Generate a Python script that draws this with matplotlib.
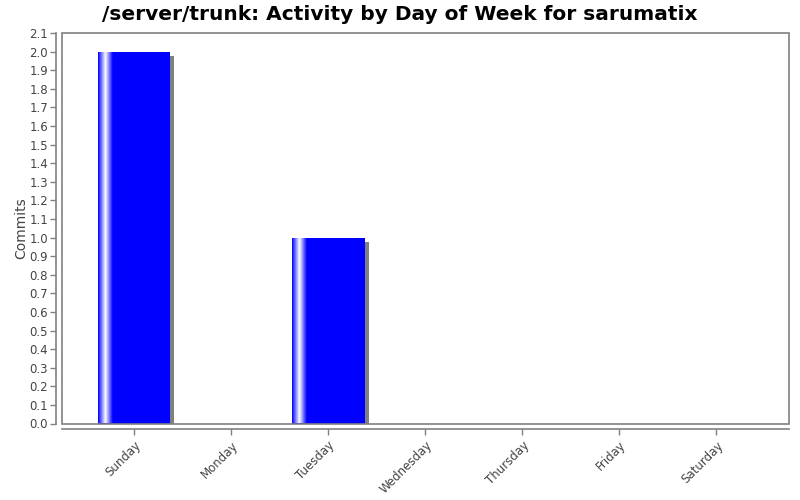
import matplotlib
matplotlib.use("Agg")
import matplotlib.pyplot as plt
import numpy as np
from matplotlib.transforms import ScaledTranslation
from matplotlib.patches import Rectangle

days = ["Sunday", "Monday", "Tuesday", "Wednesday", "Thursday", "Friday", "Saturday"]
commits = [2, 0, 1, 0, 0, 0, 0]
title = "/server/trunk: Activity by Day of Week for sarumatix"
ylabel = "Commits"
yticks = [round(0.1 * i, 1) for i in range(22)]

fig = plt.figure(figsize=(8, 5), dpi=100)
ax = fig.add_axes([62 / 800, 1 - 423.5 / 500, (788.5 - 62) / 800, (423.5 - 33) / 500])

x = np.arange(len(days))
width = 0.75
grey = "#808080"

# shadow
shadow_tr = ax.transData + ScaledTranslation(4 / 100, -4 / 100, fig.dpi_scale_trans)
ax.bar(x, commits, width=width, color=grey, transform=shadow_tr, zorder=1, linewidth=0)
# main bars
bars = ax.bar(x, commits, width=width, color="#0000ff", zorder=2, linewidth=0)

# gradient highlight on left 20% of each bar
n = 40
t = np.linspace(0, 1, n)
frac = np.where(t < 0.5, t / 0.5, (1 - t) / 0.5)
grad = np.zeros((1, n, 3))
grad[0, :, 0] = frac
grad[0, :, 1] = frac
grad[0, :, 2] = 1.0
for xi, h, b in zip(x, commits, bars):
    if h > 0:
        x0 = xi - width / 2
        im = ax.imshow(grad, extent=(x0, x0 + 0.2 * width, 0, h), aspect="auto",
                       interpolation="bilinear", zorder=3)
        im.set_clip_path(b)

ax.set_xlim(-0.742, 6.742)
ax.set_ylim(0, 2.1)
ax.set_yticks(yticks)
ax.set_yticklabels([f"{v:.1f}" for v in yticks])
ax.set_xticks(x)
ax.set_xticklabels(days)

for s in ["top", "right"]:
    ax.spines[s].set_visible(False)
for s in ["left", "bottom"]:
    ax.spines[s].set_position(("outward", 4))
    ax.spines[s].set_color(grey)
    ax.spines[s].set_linewidth(1.2)
ax.add_patch(Rectangle((0, 0), 1, 1, transform=ax.transAxes, fill=False,
                       edgecolor=grey, linewidth=1.2, clip_on=False, zorder=5))

ax.tick_params(axis="both", colors=grey, labelcolor="#444444", labelsize=8.5,
               length=4, width=1, direction="out")
ax.tick_params(axis="y", pad=2)
ax.tick_params(axis="x", pad=3)
for lab in ax.get_xticklabels():
    lab.set_rotation(45)
    lab.set_ha("right")
    lab.set_rotation_mode("anchor")

ax.set_ylabel(ylabel, fontsize=10, color="#444444", labelpad=1)
fig.text(0.5, 1 - 14 / 500, title, ha="center", va="center",
         fontsize=14.5, fontweight="bold", color="black")

fig.savefig("out.png", dpi=100, facecolor="white")
